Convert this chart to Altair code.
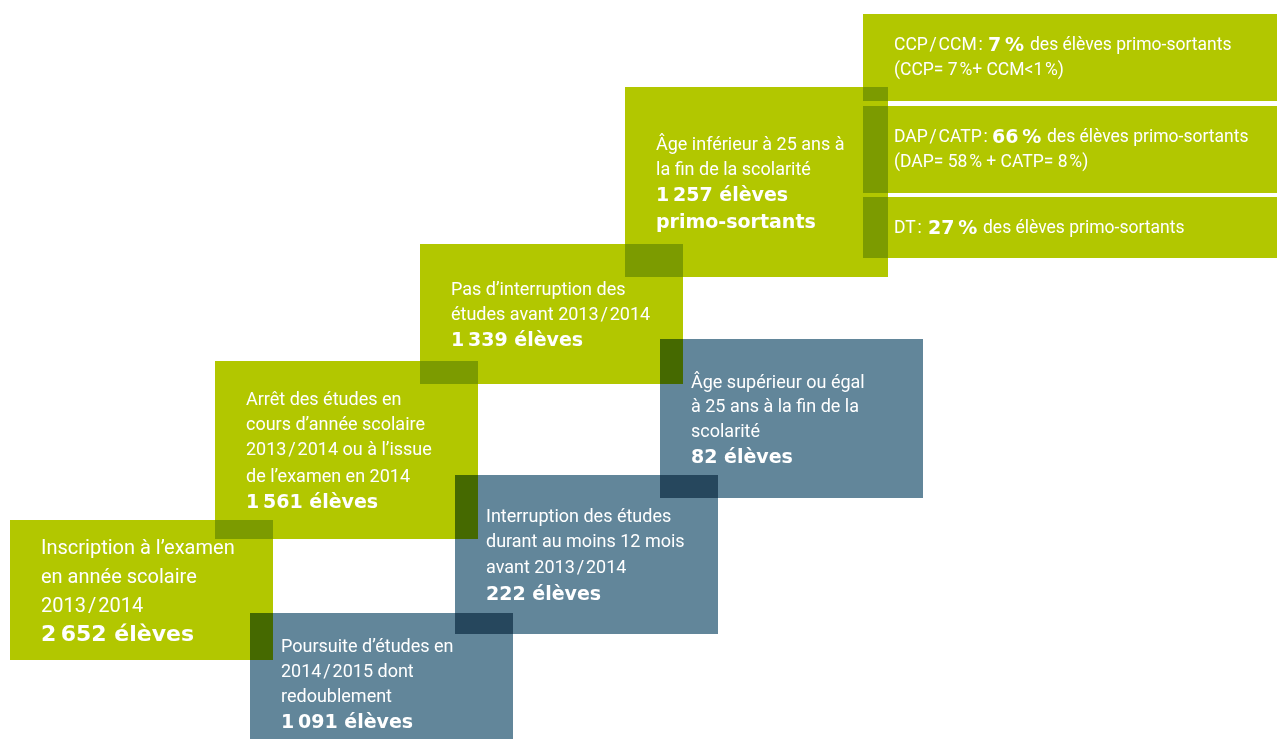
import altair as alt
import pandas as pd

# ---- boxes (pixel coordinates of the reference layout) ----
box_x0 = [10, 215, 420, 625, 660, 455, 250, 863, 863, 863]
box_x1 = [273, 478, 683, 888, 923, 718, 513, 1285, 1285, 1285]
box_y0 = [520, 361, 244, 87, 339, 475, 613, 14, 106, 197]
box_y1 = [660, 539, 384, 277, 498, 634, 747, 101, 193, 258]
box_kind = ["vert", "vert", "vert", "vert", "bleu", "bleu", "bleu", "vert", "vert", "vert"]

TS = "\u2009"   # thin space (numbers)
HS = "\u200a"   # hair space (around slashes)
# ---- regular text lines ----
reg_text = [
    "Inscription à l’examen", "en année scolaire", f"2013{HS}/{HS}2014",
    "Arrêt des études en", "cours d’année scolaire", f"2013{HS}/{HS}2014 ou à l’issue", "de l’examen en 2014",
    "Pas d’interruption des", f"études avant 2013{HS}/{HS}2014",
    "Âge inférieur à 25 ans à", "la fin de la scolarité",
    "Âge supérieur ou égal", "à 25 ans à la fin de la", "scolarité",
    "Interruption des études", "durant au moins 12 mois", f"avant 2013{HS}/{HS}2014",
    "Poursuite d’études en", f"2014{HS}/{HS}2015 dont", "redoublement",
    f"CCP{HS}/{HS}CCM{HS}:", "des élèves primo-sortants", f"(CCP= 7{HS}%+ CCM<1{HS}%)",
    f"DAP{HS}/{HS}CATP{HS}:", "des élèves primo-sortants", f"(DAP= 58{HS}% + CATP= 8{HS}%)",
    f"DT{HS}:", "des élèves primo-sortants",
]
reg_x = [41, 41, 41,
         246, 246, 246, 246,
         451, 451,
         656, 656,
         691, 691, 691,
         486, 486, 486,
         281, 281, 281,
         894, 1030, 894,
         894, 1047, 894,
         894, 983]
reg_y = [548, 577, 606,
         400, 425, 450, 477,
         290, 315,
         145, 170,
         383, 407, 432,
         517, 542, 568,
         647, 672, 697,
         45, 45, 70,
         137, 137, 162,
         228, 228]
reg_size = [20, 20, 20] + [18] * 17 + [17.5] * 8

# ---- bold text lines ----
bold_text = [
    f"2{TS}652 élèves", f"1{TS}561 élèves", f"1{TS}339 élèves",
    f"1{TS}257 élèves", "primo-sortants", "82 élèves", "222 élèves", f"1{TS}091 élèves",
    f"7{TS}%", f"66{TS}%", f"27{TS}%",
]
bold_x = [41, 246, 451, 656, 656, 691, 486, 281, 988, 992, 928]
bold_y = [634, 502, 340, 195, 222, 457, 594, 722, 45, 137, 228]
bold_size = [22, 19, 19, 19, 19, 19, 19, 19, 19, 19, 19]

boxes = pd.DataFrame({"x0": box_x0, "x1": box_x1, "y0": box_y0, "y1": box_y1, "kind": box_kind})
reg = pd.DataFrame({"x": reg_x, "y": reg_y, "t": reg_text, "s": reg_size})
bold = pd.DataFrame({"x": bold_x, "y": bold_y, "t": bold_text, "s": bold_size})

# chart sits at the page's 8px margin: reference pixel p -> chart pixel p - 8
xs = alt.Scale(domain=[8, 1277], nice=False, zero=False)
ys = alt.Scale(domain=[8, 739], nice=False, zero=False, reverse=True)

rects = alt.Chart(boxes).mark_rect(blend="multiply").encode(
    x=alt.X("x0:Q", scale=xs, axis=None),
    x2="x1:Q",
    y=alt.Y("y0:Q", scale=ys, axis=None),
    y2="y1:Q",
    color=alt.Color("kind:N", scale=alt.Scale(domain=["vert", "bleu"], range=["#B2C700", "#62869A"]), legend=None),
)

reg_layer = alt.Chart(reg).mark_text(
    align="left", baseline="middle", color="white",
    font="Roboto",
).encode(
    x=alt.X("x:Q", scale=xs, axis=None),
    y=alt.Y("y:Q", scale=ys, axis=None),
    text="t:N",
    size=alt.Size("s:Q", scale=None, legend=None),
)

bold_layer = alt.Chart(bold).mark_text(
    align="left", baseline="middle", color="white", fontWeight="bold",
    font="DejaVu Sans",
).encode(
    x=alt.X("x:Q", scale=xs, axis=None),
    y=alt.Y("y:Q", scale=ys, axis=None),
    text="t:N",
    size=alt.Size("s:Q", scale=None, legend=None),
)

chart = alt.layer(rects, reg_layer, bold_layer).properties(
    width=1269, height=731, padding=0, background="white",
    autosize=alt.AutoSizeParams(type="none"),
).configure_view(stroke=None)

chart.save("out.html", embed_options={"renderer": "svg", "actions": False})
